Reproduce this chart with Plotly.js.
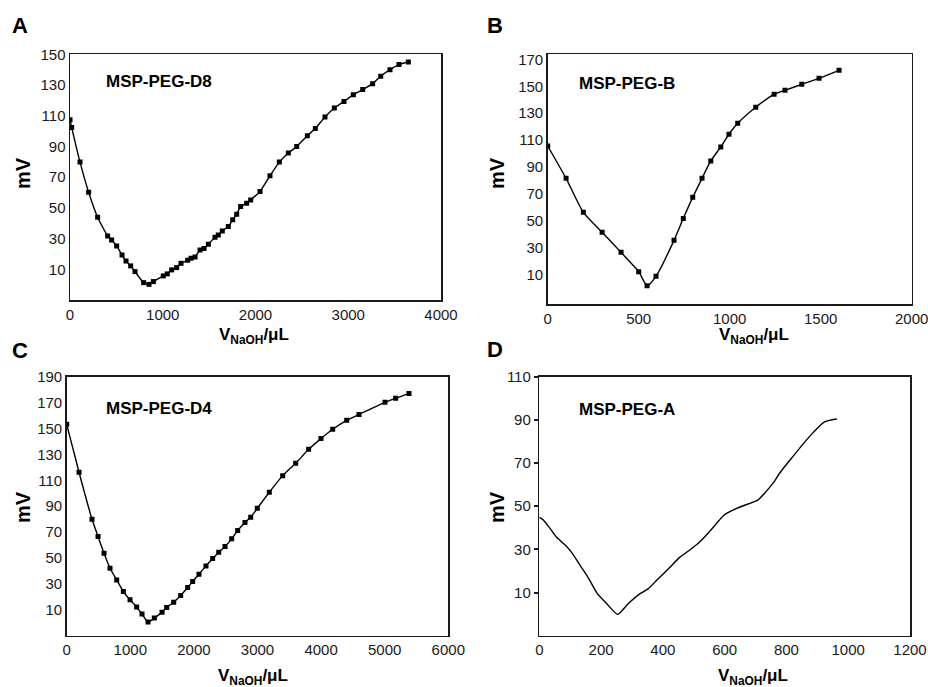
<!DOCTYPE html>
<html>
<head>
<meta charset="utf-8">
<script src="https://cdn.plot.ly/plotly-3.0.1.min.js"></script>
<style>html,body{margin:0;padding:0;background:#fff;}#chart{width:928px;height:687px;}</style>
</head>
<body>
<div id="chart"></div>
<script>
// Panel A: MSP-PEG-D8
const A_x = [0, 18, 108, 201, 298, 406, 449, 503, 561, 604, 654, 701, 794, 852, 899, 1006, 1049, 1096, 1150, 1197, 1269, 1305, 1348, 1402, 1445, 1492, 1563, 1599, 1642, 1707, 1754, 1797, 1840, 1905, 1948, 2049, 2156, 2257, 2354, 2444, 2559, 2645, 2749, 2850, 2954, 3055, 3156, 3263, 3350, 3450, 3547, 3648];
const A_y = [107.4, 102.4, 79.8, 60.2, 43.9, 31.7, 29.1, 25.2, 19.3, 15.4, 12.2, 8.5, 1.3, 0.2, 2, 5.7, 7, 9.6, 11.1, 13.9, 15.9, 17.2, 18, 22.6, 23.5, 26.3, 30.9, 32.4, 35, 37.8, 42.2, 45.9, 50.9, 53, 55.2, 60.7, 70.9, 79.8, 85.7, 90, 97, 101.7, 109.1, 115, 119.3, 123.7, 127, 130.9, 135.7, 140, 143.3, 145];
// Panel B: MSP-PEG-B
const B_x = [0, 101, 196, 299, 403, 500, 546, 595, 694, 745, 797, 848, 896, 951, 996, 1044, 1143, 1244, 1304, 1396, 1491, 1601];
const B_y = [105.7, 81.7, 56.5, 41.7, 26.8, 12.5, 2.1, 9, 35.7, 52, 67.6, 81.7, 94.6, 105, 114.4, 122.5, 134.4, 144, 147, 151.4, 155.9, 161.8];
// Panel C: MSP-PEG-D4
const C_x = [0, 194, 398, 493, 587, 681, 786, 891, 996, 1100, 1184, 1279, 1378, 1499, 1572, 1682, 1792, 1902, 1981, 2080, 2190, 2295, 2390, 2489, 2594, 2688, 2803, 2893, 2997, 3186, 3396, 3600, 3804, 3998, 4182, 4402, 4596, 5004, 5172, 5382];
const C_y = [153.2, 116.2, 79.9, 66.6, 53.7, 42.1, 33.1, 24.1, 17.7, 12.1, 6.7, 0.5, 3.6, 8.2, 11.8, 15.9, 21.1, 27.2, 31.9, 37.5, 43.9, 49.6, 54.5, 58.9, 64.8, 71.2, 77.4, 81.5, 88.4, 100.8, 113.6, 123.1, 133.9, 142.2, 149.4, 156.3, 160.9, 170.2, 173.3, 177.1];
// Panel D: MSP-PEG-A (line only)
const D_x = [0, 13, 32, 56, 83, 104, 132, 159, 188, 218, 254, 288, 320, 353, 380, 418, 455, 488, 518, 547, 572, 596, 623, 660, 707, 736, 758, 779, 822, 855, 887, 922, 963];
const D_y = [44.8, 43.6, 40.2, 35.6, 32.1, 28.7, 22.6, 16.7, 9.5, 4.9, -0.1, 4.9, 8.8, 11.8, 15.7, 21, 26.4, 29.8, 33.3, 37.6, 41.7, 45.6, 47.9, 50.2, 52.8, 57.1, 60.9, 65.5, 73.2, 79, 84.2, 89, 90.4];

const panelLetters = ['A', 'B', 'C', 'D'];
const sampleNames = ['MSP-PEG-D8', 'MSP-PEG-B', 'MSP-PEG-D4', 'MSP-PEG-A'];
const A_yticks = [10, 30, 50, 70, 90, 110, 130, 150];
const B_yticks = [10, 30, 50, 70, 90, 110, 130, 150, 170];
const C_yticks = [10, 30, 50, 70, 90, 110, 130, 150, 170, 190];
const D_yticks = [10, 30, 50, 70, 90, 110];
const A_xticks = [0, 1000, 2000, 3000, 4000];
const B_xticks = [0, 500, 1000, 1500, 2000];
const C_xticks = [0, 1000, 2000, 3000, 4000, 5000, 6000];
const D_xticks = [0, 200, 400, 600, 800, 1000, 1200];

const FONT = 'Liberation Sans, Arial, sans-serif';
const W = 928, H = 687;
const px = v => v / W;
const py = v => 1 - v / H;

function axis(domain, range, tickvals, anchor, extra) {
  return Object.assign({
    domain: domain, range: range, tickvals: tickvals, anchor: anchor,
    showline: true, mirror: true, linecolor: '#1a1a1a', linewidth: 1.5,
    showgrid: false, zeroline: false, ticks: '',
    ticklabeloverflow: 'allow',
    tickfont: {family: FONT, size: 15, color: '#1a1a1a'},
    fixedrange: true
  }, extra || {});
}

const lineStyle = {color: '#000', width: 1.4, shape: 'spline', smoothing: 0.6};
const mk = {symbol: 'square', size: 5, color: '#000'};

const traces = [
  {x: A_x, y: A_y, xaxis: 'x', yaxis: 'y', mode: 'lines+markers', line: lineStyle, marker: mk},
  {x: B_x, y: B_y, xaxis: 'x2', yaxis: 'y2', mode: 'lines+markers', line: lineStyle, marker: mk},
  {x: C_x, y: C_y, xaxis: 'x3', yaxis: 'y3', mode: 'lines+markers', line: lineStyle, marker: mk},
  {x: D_x, y: D_y, xaxis: 'x4', yaxis: 'y4', mode: 'lines', line: lineStyle}
];

const xTitle = '<b>V<sub>NaOH</sub>/μL</b>';
const ann = [];
function txt(x, y, text, size, opts) {
  ann.push(Object.assign({xref: 'paper', yref: 'paper', x: px(x), y: py(y), text: text,
    showarrow: false, xanchor: 'center', yanchor: 'middle',
    font: {family: FONT, size: size, color: '#000'}}, opts || {}));
}
// panel letters
txt(20, 25, '<b>' + panelLetters[0] + '</b>', 22);
txt(495, 25, '<b>' + panelLetters[1] + '</b>', 22);
txt(20, 350, '<b>' + panelLetters[2] + '</b>', 22);
txt(495, 349, '<b>' + panelLetters[3] + '</b>', 22);
// sample names
txt(104, 82, '<b>' + sampleNames[0] + '</b>', 17, {xanchor: 'left'});
txt(577, 84, '<b>' + sampleNames[1] + '</b>', 17, {xanchor: 'left'});
txt(104, 408, '<b>' + sampleNames[2] + '</b>', 17, {xanchor: 'left'});
txt(577, 409, '<b>' + sampleNames[3] + '</b>', 17, {xanchor: 'left'});
// y titles
txt(23, 173, '<b>mV</b>', 20, {textangle: -90});
txt(497, 173, '<b>mV</b>', 20, {textangle: -90});
txt(23, 507, '<b>mV</b>', 20, {textangle: -90});
txt(497, 507, '<b>mV</b>', 20, {textangle: -90});
// x titles
txt(254, 336, xTitle, 17);
txt(754, 336, xTitle, 17);
txt(253, 677, xTitle, 17);
txt(753, 677, xTitle, 17);

const layout = {
  width: W, height: H,
  margin: {l: 0, r: 0, t: 0, b: 0},
  paper_bgcolor: '#fff', plot_bgcolor: '#fff',
  showlegend: false,
  font: {family: FONT, color: '#1a1a1a'},
  xaxis: axis([px(70), px(441)], [0, 4000], A_xticks, 'y'),
  yaxis: axis([py(300), py(54.3)], [-10, 150], A_yticks, 'x'),
  xaxis2: axis([px(547.7), px(911.7)], [0, 2000], B_xticks, 'y2'),
  yaxis2: axis([py(304), py(54.3)], [-11.5, 173.7], B_yticks, 'x2'),
  xaxis3: axis([px(66.7), px(448.3)], [0, 6000], C_xticks, 'y3'),
  yaxis3: axis([py(635.7), py(376.7)], [-10, 190], C_yticks, 'x3'),
  xaxis4: axis([px(539.3), px(910)], [0, 1200], D_xticks, 'y4'),
  yaxis4: axis([py(635.7), py(376.7)], [-10, 110], D_yticks, 'x4', {ticks: 'outside', ticklen: 4, tickwidth: 2, tickcolor: '#1a1a1a'}),
  annotations: ann
};

Plotly.newPlot('chart', traces, layout, {staticPlot: true, displayModeBar: false});
</script>
</body>
</html>
